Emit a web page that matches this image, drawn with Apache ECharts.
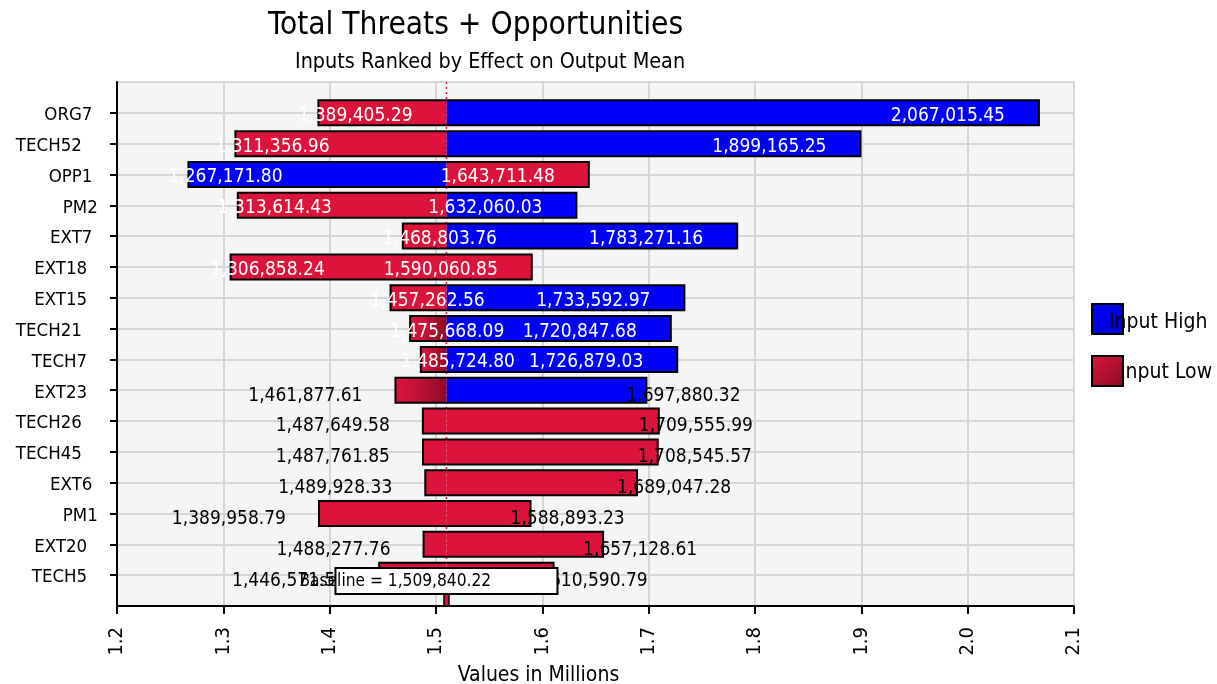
<!DOCTYPE html>
<html><head><meta charset="utf-8">
<script src="https://cdn.jsdelivr.net/npm/echarts@6/dist/echarts.min.js"></script>
<style>html,body{margin:0;padding:0;background:#fff}#c{width:1217px;height:684px}</style>
</head><body><div id="c"></div>
<script>
// ---------- data ----------
const categories = ['ORG7','TECH52','OPP1','PM2','EXT7','EXT18','EXT15','TECH21','TECH7','EXT23','TECH26','TECH45','EXT6','PM1','EXT20','TECH5'];
const inputLowOutput  = [1389405.29, 1311356.96, 1643711.48, 1313614.43, 1468803.76, 1306858.24, 1457262.56, 1475668.09, 1485724.80, 1461877.61, 1487649.58, 1487761.85, 1489928.33, 1389958.79, 1488277.76, 1446571.56];
const inputHighOutput = [2067015.45, 1899165.25, 1267171.80, 1632060.03, 1783271.16, 1590060.85, 1733592.97, 1720847.68, 1726879.03, 1697880.32, 1709555.99, 1708545.57, 1689047.28, 1588893.23, 1657128.61, 1610590.79];
const highDrawnAsLow  = [false, false, false, false, false, true, false, false, false, false, true, true, true, true, true, true];
const baselineOutput = 1509840.22;
const axisMin = 1200000, axisMax = 2100000, axisStep = 100000;

// ---------- style ----------
const FONT = "'DejaVu Sans Condensed', 'DejaVu Sans', sans-serif";
const RED = '#dc143c', BLUE = '#0000ff';
const yCats = [' '].concat(categories, ['Baseline']);
const baseRow = yCats.length - 1;
const insideLabelRows = 9;
const shadedLowRows = [7, 8, 9];

function fmt(v){ return v.toLocaleString('en-US',{minimumFractionDigits:2, maximumFractionDigits:2}); }

function segmentRenderer(isHigh){
  return function(params, api){
    const v = api.value(0), yi = api.value(1), row = api.value(2);
    const pB = api.coord([baselineOutput, yi]);
    const pV = api.coord([v, yi]);
    const h = 25;
    const left = pV[0] < pB[0];
    const x0 = Math.min(pB[0], pV[0]), x1 = Math.max(pB[0], pV[0]);
    const y0 = pB[1] - h/2, y1 = y0 + h;
    let color = (isHigh && !highDrawnAsLow[row]) ? BLUE : RED;
    if (!isHigh && shadedLowRows.indexOf(row) >= 0) {
      color = new echarts.graphic.LinearGradient(0,0,1,0,[{offset:0,color:RED},{offset:0.35,color:'#c8123a'},{offset:1,color:'#8e0b27'}]);
    }
    const outer = left ? x0 : x1;
    const inside = row < insideLabelRows;
    let tx, align;
    if (inside) { if (left) { tx = x0 - 20; align = 'left'; } else { tx = x1 - 34; align = 'right'; } }
    else { if (left) { tx = x0 - 33; align = 'right'; } else { tx = x1 - 20; align = 'left'; } }
    return {type:'group', children:[
      {type:'rect', shape:{x:x0, y:y0, width:x1-x0, height:h}, style:{fill:color}, z2:1},
      {type:'polyline', shape:{points:[[pB[0],y0],[outer,y0],[outer,y1],[pB[0],y1]]}, style:{stroke:'#000', lineWidth:2, fill:'none'}, z2:2},
      {type:'text', x:tx, y:pB[1] + (inside ? 3 : 5.5), style:{text:fmt(v), fill: inside ? '#fff' : '#000', fontSize:19, fontFamily:FONT, align:align, verticalAlign:'middle'}, z2:10}
    ]};
  };
}

function baselineRenderer(params, api){
  const p = api.coord([api.value(0), api.value(1)]);
  return {type:'group', children:[
    {type:'rect', shape:{x:p[0]-2.5, y:p[1]-13, width:5, height:13}, style:{fill:RED, stroke:'#000', lineWidth:1.5}},
    {type:'rect', shape:{x:p[0]-111, y:p[1]-38, width:222, height:26}, style:{fill:'#fff', stroke:'#000', lineWidth:2}},
    {type:'text', x:p[0]-147, y:p[1]-24.5, style:{text:'Baseline = ' + fmt(api.value(0)), fill:'#000', fontSize:17.2, fontFamily:FONT, align:'left', verticalAlign:'middle'}}
  ]};
}

const blueGrad = new echarts.graphic.LinearGradient(0,0,1,1,[{offset:0,color:'#0000ff'},{offset:1,color:'#0000c8'}]);
const redGrad = new echarts.graphic.LinearGradient(0,0,1,1,[{offset:0,color:'#dc143c'},{offset:1,color:'#8a0c24'}]);

const chart = echarts.init(document.getElementById('c'), null, {renderer:'canvas'});
chart.setOption({
  animation:false,
  backgroundColor:'#ffffff',
  textStyle:{fontFamily:FONT, color:'#000'},
  title:[
    {text:'Total Threats + Opportunities', left:268, top:10, padding:0, textStyle:{fontSize:31.4, fontWeight:'normal', color:'#000', fontFamily:FONT}},
    {text:'Inputs Ranked by Effect on Output Mean', left:295, top:52, padding:0, textStyle:{fontSize:21.4, fontWeight:'normal', color:'#000', fontFamily:FONT}}
  ],
  legend:[
    {data:[{name:'Input High', itemStyle:{color:blueGrad, borderColor:'#000', borderWidth:2}}], left:1091, top:303, padding:0, orient:'vertical', icon:'rect', itemWidth:31, itemHeight:30, selectedMode:false,
      formatter:'{t|{name}}', textStyle:{fontSize:21, color:'#000', fontFamily:FONT, padding:[0,0,0,-19], rich:{t:{fontSize:21, fontFamily:FONT, color:'#000', padding:[7,0,0,0]}}}},
    {data:[{name:'Input Low', itemStyle:{color:redGrad, borderColor:'#000', borderWidth:2}}], left:1091, top:355, padding:0, orient:'vertical', icon:'rect', itemWidth:31, itemHeight:30, selectedMode:false,
      formatter:'{t|{name}}', textStyle:{fontSize:21, color:'#000', fontFamily:FONT, padding:[0,0,0,-8], rich:{t:{fontSize:21, fontFamily:FONT, color:'#000', padding:[3,0,0,0]}}}}
  ],
  grid:{left:117, right:143, top:82, bottom:78, show:true, backgroundColor:'#f5f5f5', borderWidth:0, containLabel:false, outerBoundsMode:'none'},
  xAxis:{
    type:'value', min:axisMin, max:axisMax, interval:axisStep,
    name:'Values in Millions', nameLocation:'middle', nameGap:59,
    nameTextStyle:{fontSize:21, color:'#000', fontFamily:FONT, padding:[0,114,0,0]},
    axisLine:{show:true, onZero:false, lineStyle:{color:'#000', width:2}},
    axisTick:{show:true, length:8, lineStyle:{color:'#000', width:2}},
    axisLabel:{rotate:90, margin:21, fontSize:20, color:'#000', fontFamily:FONT, formatter:function(v){return (v/1e6).toFixed(1);}},
    splitLine:{show:true, lineStyle:{color:'#d6d6d6', width:2}}
  },
  yAxis:{
    type:'category', data:yCats, inverse:true, boundaryGap:false,
    axisLine:{show:true, lineStyle:{color:'#000', width:2}},
    axisTick:{show:true, length:7, lineStyle:{color:'#000', width:2}, interval:function(i){return i>0 && i<baseRow;}},
    axisLabel:{margin:14, fontSize:18.5, color:'#000', fontFamily:FONT,
      interval:function(i){return i>0 && i<baseRow;},
      formatter:function(name){ return '{c|' + name + '\u00a0'.repeat(Math.max(0, name.length-2)) + '}'; },
      rich:{c:{fontSize:18.5, fontFamily:FONT, color:'#000', padding:[5,0,0,0]}}},
    splitLine:{show:true, interval:0, lineStyle:{color:'#d6d6d6', width:2}}
  },
  series:[
    {type:'line', name:'baseline', data:[[baselineOutput,0],[baselineOutput,baseRow]], symbol:'none', silent:true, z:1,
      lineStyle:{color:RED, width:1.5, type:[2,3]}},
    {type:'custom', name:'Input High', renderItem:segmentRenderer(true), itemStyle:{color:BLUE}, encode:{x:0, y:1}, z:3,
      data:inputHighOutput.map(function(v,i){return [v, i+1, i];})},
    {type:'custom', name:'Input Low', renderItem:segmentRenderer(false), itemStyle:{color:RED}, encode:{x:0, y:1}, z:3,
      data:inputLowOutput.map(function(v,i){return [v, i+1, i];})},
    {type:'custom', name:'baselineBox', renderItem:baselineRenderer, encode:{x:0, y:1}, z:6, clip:true,
      data:[[baselineOutput, baseRow]]}
  ]
});
</script></body></html>
